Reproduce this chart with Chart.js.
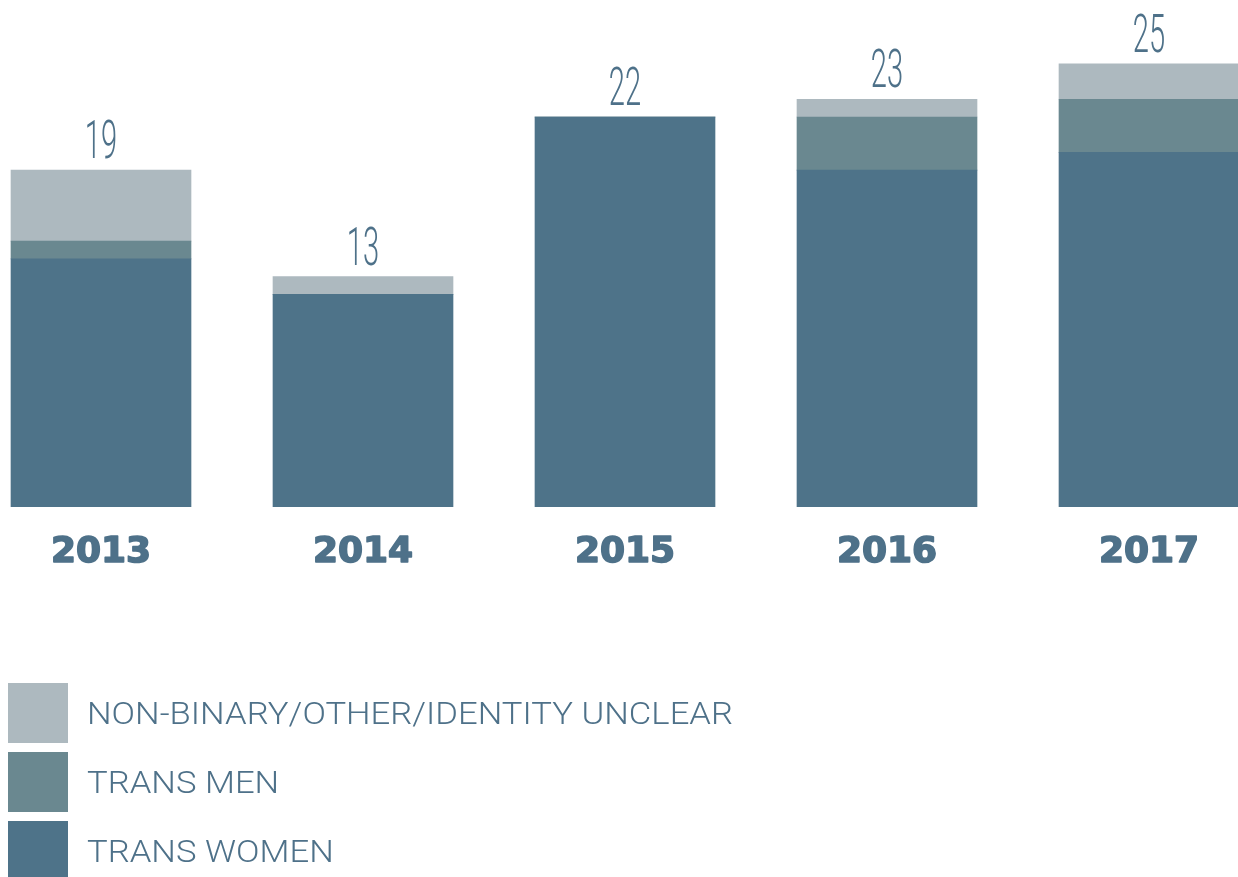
<!DOCTYPE html>
<html>
<head>
<meta charset="utf-8">
<script src="https://cdn.jsdelivr.net/npm/chart.js@4/dist/chart.umd.min.js"></script>
<style>
  html, body { margin: 0; padding: 0; background: #ffffff; width: 1238px; height: 877px; overflow: hidden; position: relative; }
  #wrap { position: absolute; left: -30px; top: 0; width: 1310px; height: 877px; }
  .lg-box { position: absolute; left: 8px; width: 60px; height: 60px; }
  .lg-text { position: absolute; left: 87px; font-family: Roboto, "Open Sans", sans-serif; font-weight: 300; font-size: 31px; color: #4e7189; white-space: nowrap; transform-origin: 0 50%; line-height: 1; }
</style>
</head>
<body>
<div id="wrap"><canvas id="c" width="1310" height="877"></canvas></div>
<div id="legend"></div>
<script>
const years = ['2013', '2014', '2015', '2016', '2017'];
const transWomen = [14, 12, 22, 19, 20];
const transMen = [1, 0, 0, 3, 3];
const nonBinary = [4, 1, 0, 1, 2];
const seriesNames = ['TRANS WOMEN', 'TRANS MEN', 'NON-BINARY/OTHER/IDENTITY UNCLEAR'];
const seriesColors = ['#4e7389', '#6a8890', '#adb9bf'];
const textColor = '#4e7189';

const labelsPlugin = {
  id: 'labelsPlugin',
  afterDatasetsDraw(chart) {
    const ctx = chart.ctx;
    const xs = chart.scales.x, ys = chart.scales.y;
    ctx.save();
    ctx.fillStyle = textColor;
    ctx.strokeStyle = textColor;
    years.forEach((yr, i) => {
      const total = transWomen[i] + transMen[i] + nonBinary[i];
      const x = xs.getPixelForValue(i);
      const y = ys.getPixelForValue(total) - 12;
      ctx.save();
      ctx.translate(x, y);
      ctx.scale(0.55, 1);
      ctx.font = '300 53px Roboto';
      ctx.textAlign = 'center';
      ctx.textBaseline = 'alphabetic';
      ctx.fillText(String(total), 0, 0);
      ctx.restore();
      ctx.font = 'bold 36px "DejaVu Sans"';
      ctx.textAlign = 'center';
      ctx.textBaseline = 'alphabetic';
      ctx.lineWidth = 1.6;
      ctx.lineJoin = 'round';
      const by = ys.getPixelForValue(0) + 55;
      ctx.fillText(yr, x, by);
      ctx.strokeText(yr, x, by);
    });
    ctx.restore();
  }
};

new Chart(document.getElementById('c'), {
  type: 'bar',
  data: {
    labels: years,
    datasets: [
      { label: seriesNames[0], data: transWomen, backgroundColor: seriesColors[0] },
      { label: seriesNames[1], data: transMen, backgroundColor: seriesColors[1] },
      { label: seriesNames[2], data: nonBinary, backgroundColor: seriesColors[2] }
    ]
  },
  options: {
    responsive: false,
    animation: false,
    layout: { padding: { top: 10.6, bottom: 370, left: 0, right: 0 } },
    datasets: { bar: { barThickness: 180, borderWidth: 0 } },
    plugins: { legend: { display: false }, tooltip: { enabled: false } },
    scales: {
      x: { stacked: true, display: false },
      y: { stacked: true, display: false, min: 0, max: 28 }
    }
  },
  plugins: [labelsPlugin]
});

// HTML legend (top to bottom: non-binary, trans men, trans women)
const legend = document.getElementById('legend');
const order = [2, 1, 0];
const spans = [];
order.forEach((s, k) => {
  const top = 683 + k * 69;
  const box = document.createElement('div');
  box.className = 'lg-box';
  box.style.top = top + 'px';
  box.style.background = seriesColors[s];
  legend.appendChild(box);
  const t = document.createElement('div');
  t.className = 'lg-text';
  t.textContent = seriesNames[s];
  t.style.top = (top + 30 - 15) + 'px';
  legend.appendChild(t);
  spans.push(t);
});
const w = spans[0].getBoundingClientRect().width;
const sx = 646 / w;
spans.forEach(t => { t.style.transform = 'scaleX(' + sx + ')'; });
</script>
</body>
</html>
